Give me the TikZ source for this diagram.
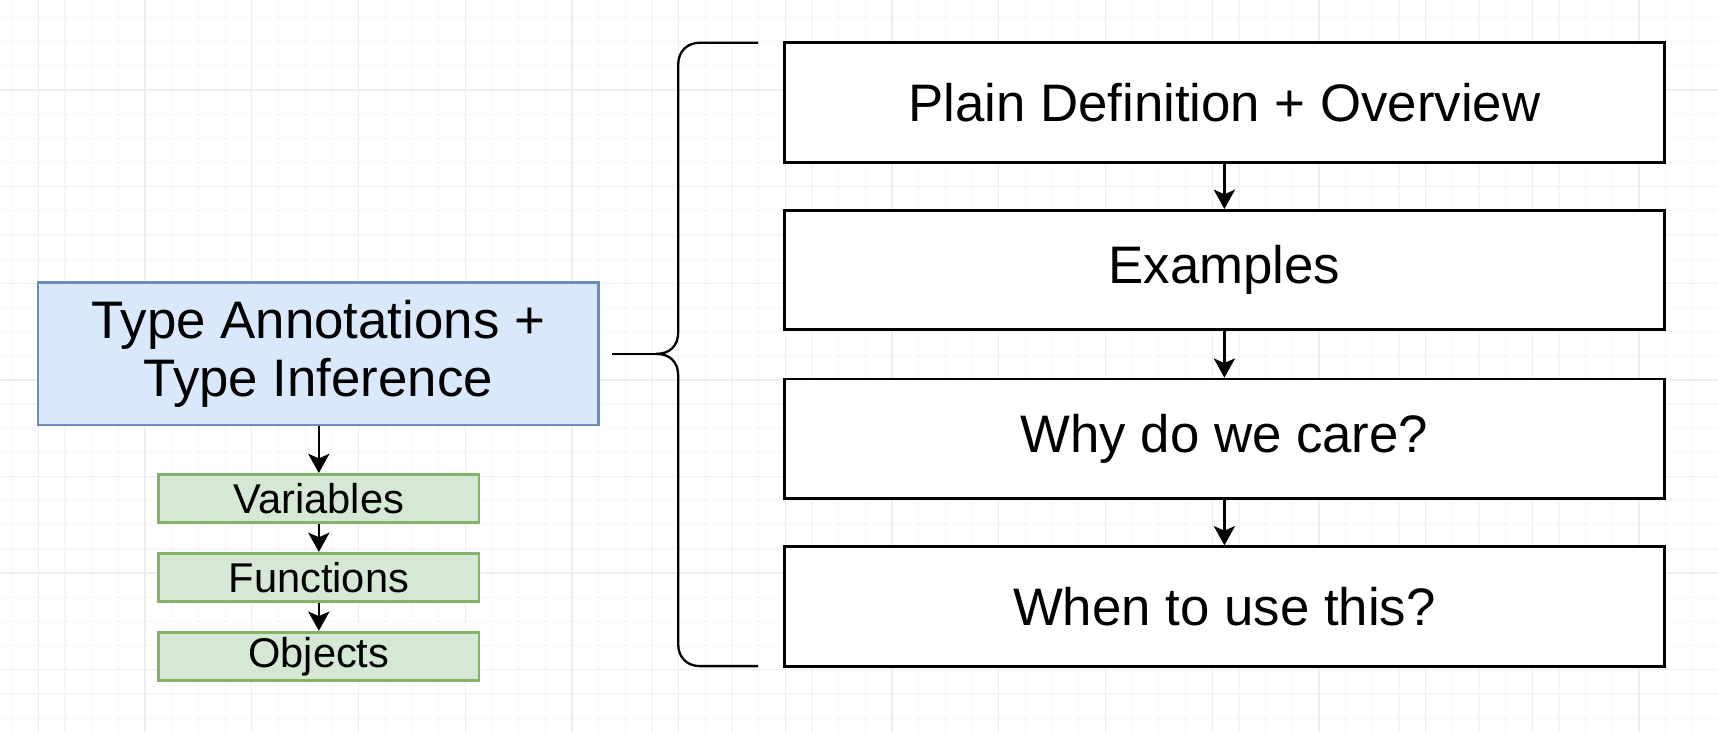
\documentclass[tikz,border=0pt]{standalone}
\usepackage{fontspec}
\setmainfont{Liberation Sans}
\usetikzlibrary{arrows.meta}

\definecolor{blueFill}{HTML}{DAE8FC}
\definecolor{blueLine}{HTML}{6C8EBF}
\definecolor{greenFill}{HTML}{D5E8D4}
\definecolor{greenLine}{HTML}{82B366}
\definecolor{gridMinor}{HTML}{F6F6F6}
\definecolor{gridMajor}{HTML}{EEEEEE}

\tikzset{
    topicbox/.style={draw=blueLine, fill=blueFill, line width=0.6pt, inner sep=0pt,
        minimum width=5.11cm, minimum height=1.30cm, align=center,
        font=\fontsize{13.7}{15.2}\selectfont},
    subbox/.style={draw=greenLine, fill=greenFill, line width=0.7pt, inner sep=0pt,
        minimum width=2.92cm, minimum height=0.44cm,
        font=\fontsize{10.8}{12}\selectfont},
    partbox/.style={draw=black, fill=white, line width=0.7pt, inner sep=0pt,
        minimum width=8.03cm, minimum height=1.09cm,
        font=\fontsize{13.7}{15}\selectfont},
    flow/.style={-{Stealth[length=5pt, width=5.5pt, inset=1.2pt]}, line width=0.65pt},
}

\begin{document}
\begin{tikzpicture}[x=0.01cm, y=-0.01cm]
        % Setup the canvas
        \useasboundingbox[fill=white] (0,0) rectangle (1568,668);

        % Fill up with a grid
        \foreach \gx in {0,...,64} {
            \draw[gridMinor, line width=0.3pt] (10.65+24.35*\gx, 0) -- (10.65+24.35*\gx, 668);
        }
        \foreach \gy in {0,...,30} {
            \draw[gridMinor, line width=0.3pt] (0, 16+22.05*\gy) -- (1568, 16+22.05*\gy);
        }
        \foreach \gx in {0,...,16} {
            \draw[gridMajor, line width=0.35pt] (35+97.4*\gx, 0) -- (35+97.4*\gx, 668);
        }
        \foreach \gy in {0,...,7} {
            \draw[gridMajor, line width=0.35pt] (0, -6.1+88.2*\gy) -- (1568, -6.1+88.2*\gy);
        }

        % The topic and its sub topics
        \node[topicbox] (topic) at (290.5, 323) {Type Annotations +\\Type Inference};
        \node[subbox] (vars) at (291, 455) {Variables};
        \node[subbox] (funcs) at (291, 527) {Functions};
        \node[subbox] (objs) at (291, 599) {Objects};

        \draw[flow] (topic.south -| vars.north) -- (vars.north);
        \draw[flow] (vars) -- (funcs);
        \draw[flow] (funcs) -- (objs);

        % The parts on the right
        \node[partbox] (plain) at (1117.5, 93.5) {Plain Definition + Overview};
        \node[partbox] (examples) at (1117.5, 246.5) {Examples};
        \node[partbox] (why) at (1117.5, 400.5) {Why do we care?};
        \node[partbox] (when) at (1117.5, 553.5) {When to use this?};

        \draw[flow] (plain) -- (examples);
        \draw[flow] (examples) -- (why);
        \draw[flow] (why) -- (when);

        % The curly bracket that groups the parts
        \coordinate (tip) at (599, 323);
        \draw[line width=0.6pt] (692,39) -- (639,39)
            .. controls (627,39) and (619,47) .. (619,59) -- (619,303)
            .. controls (619,316) and (611,323) .. (tip)
            .. controls (611,323) and (619,330) .. (619,343) -- (619,588)
            .. controls (619,600) and (627,608) .. (639,608) -- (692,608);
        \draw[line width=0.6pt] ([xshift=0.11cm]topic.east) -- (tip);
\end{tikzpicture}
\end{document}
